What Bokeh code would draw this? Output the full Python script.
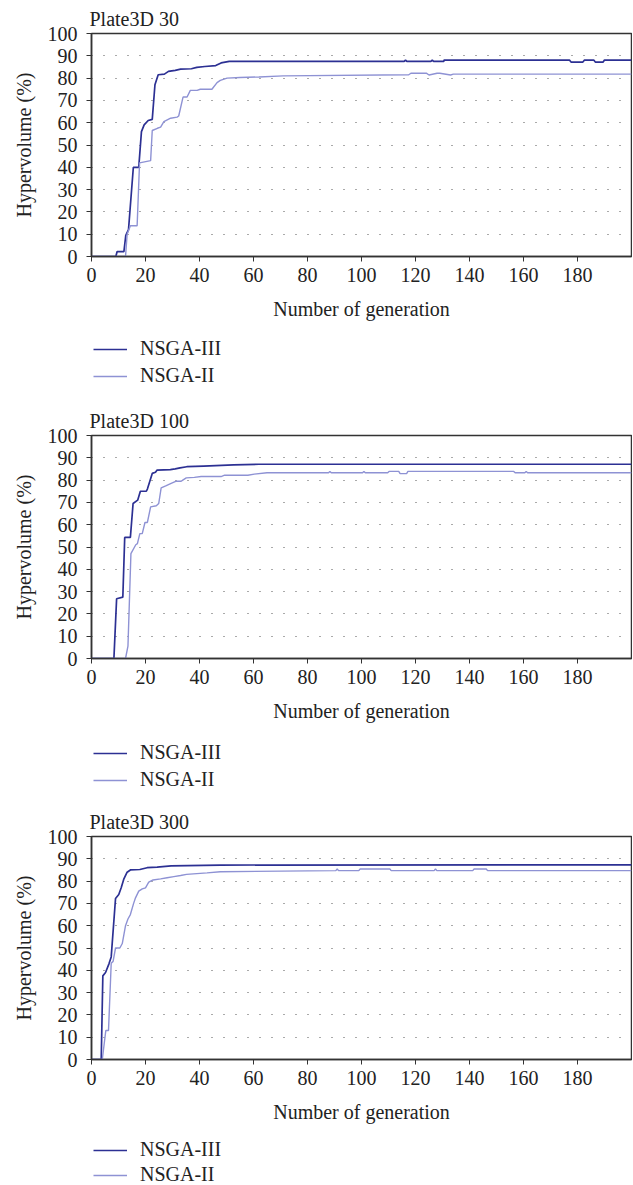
from bokeh.plotting import figure
from bokeh.models import Legend, LegendItem, FixedTicker, Range1d
from bokeh.layouts import column
from bokeh.embed import file_html
from bokeh.resources import INLINE

# ---------------- data ----------------
titles = ["Plate3D 30", "Plate3D 100", "Plate3D 300"]
series_names = ["NSGA-III", "NSGA-II"]
x_ticks = [0, 20, 40, 60, 80, 100, 120, 140, 160, 180]
y_ticks = [0, 10, 20, 30, 40, 50, 60, 70, 80, 90, 100]

# Plate3D 30
nsga3_30_x = [0, 9, 9.5, 12, 12.7, 13.7, 15.5, 17.5, 18.5, 19.5, 21, 22.5, 23.5, 24.7, 27, 28.5, 31, 33, 37, 39, 42, 46,
              48, 51, 115.8, 116.3, 116.8, 125.7, 126.2, 126.7, 130.5, 130.6, 177, 177.6, 182, 182.6, 186, 186.6, 189.5,
              190, 200]
nsga3_30_y = [0, 0, 2.2, 2.2, 9.5, 12, 40, 40, 56, 59, 61, 61.5, 77, 81.5, 81.8, 83, 83.5, 84, 84.2, 84.8, 85.2, 85.6,
              86.8, 87.5, 87.5, 88.1, 87.5, 87.5, 88.1, 87.5, 87.5, 88.1, 88.1, 87.2, 87.2, 88.1, 88.1, 87.2, 87.2,
              88.1, 88.1]
nsga2_30_x = [0, 12.6, 13.2, 14.4, 16.9, 17.8, 21.9, 22.5, 24.4, 25.6, 26.8, 29.3, 31.7, 32.3, 33.9, 35.4, 36.6, 39.1,
              40.3, 44.6, 46.5, 47.7, 50.2, 55, 62, 71, 117.5, 118.3, 124, 125, 128, 129, 133, 134, 200]
nsga2_30_y = [0, 0, 10, 13.8, 13.8, 42, 43, 56.5, 57.5, 58, 60.5, 62, 62.5, 63, 71.5, 71.5, 74.5, 74.5, 75, 75, 78,
              79, 80, 80.3, 80.5, 81, 81.5, 82.2, 82.2, 81.4, 82.2, 82.2, 81.4, 81.8, 81.8]

# Plate3D 100
nsga3_100_x = [0, 8.3, 9.3, 11.6, 12.3, 14.4, 15.4, 17.1, 18.1, 20.3, 20.7, 22.5, 23.7, 24.3, 29.2, 31, 32.8, 35.3,
               41.5, 52.6, 62, 200]
nsga3_100_y = [0, 0, 26.8, 27.5, 54.3, 54.3, 69.5, 71, 75, 75, 76, 83, 83.5, 84.5, 84.7, 85, 85.5, 86, 86.3, 86.8,
               87.1, 87.1]
nsga2_100_x = [0, 12.6, 13.5, 14.6, 16.4, 17, 17.9, 18.8, 19.8, 20.7, 21.9, 24, 24.9, 25.8, 27.7, 29.5, 31.4, 33.2,
               33.8, 35.1, 38.1, 40.6, 48, 49.3, 57.9, 60.3, 65, 87.8, 88.3, 88.8, 100.4, 100.9, 101.4, 109.7, 110.2,
               113.8, 114.3, 116.7, 117.2, 156.4, 156.9, 160.5, 161, 161.5, 200]
nsga2_100_y = [0, 0, 5.5, 47, 51, 51.5, 56, 56, 61, 61, 68, 68.5, 69.5, 76.5, 77.5, 78.5, 79.5, 79.5, 80, 81, 81.2,
               81.6, 81.6, 82.2, 82.2, 82.7, 83.3, 83.3, 83.9, 83.3, 83.3, 83.9, 83.3, 83.3, 83.9, 83.9, 82.9, 82.9,
               83.9, 83.9, 83.3, 83.3, 83.9, 83.3, 83.3]

# Plate3D 300
nsga3_300_x = [0, 3.6, 4.2, 5.2, 6.5, 7.3, 8.9, 10.1, 11, 12, 13.2, 14.4, 17.9, 20.6, 24.3, 29.5, 47.7, 200]
nsga3_300_y = [0, 0, 37.5, 39, 43, 46, 72.2, 74, 77, 81, 84, 85, 85.2, 86, 86.3, 86.8, 87.2, 87.3]
nsga2_300_x = [0, 4, 5.3, 6.3, 7.3, 8, 8.9, 10.5, 11.4, 12.6, 13.5, 14.4, 15.6, 16.3, 17.5, 18.8, 20, 21.2, 22.8,
               25.6, 28, 30.5, 33, 35.2, 42.8, 47.7, 90.5, 91, 91.5, 99, 99.5, 110.5, 111, 126.9, 127.4, 127.9, 141.2,
               141.7, 146.2, 146.7, 200]
nsga2_300_y = [0, 0, 13, 13, 43.2, 44, 50, 50, 52, 60, 63, 65, 70, 72.5, 75.5, 76.5, 77, 79.5, 80.5, 81, 81.5, 82,
               82.5, 83, 83.7, 84.2, 84.7, 85.4, 84.7, 84.7, 85.4, 85.4, 84.7, 84.7, 85.4, 84.7, 84.7, 85.4, 85.4, 84.7,
               84.7]

series = [
    (nsga3_30_x, nsga3_30_y, nsga2_30_x, nsga2_30_y),
    (nsga3_100_x, nsga3_100_y, nsga2_100_x, nsga2_100_y),
    (nsga3_300_x, nsga3_300_y, nsga2_300_x, nsga2_300_y),
]

# ---------------- styling ----------------
FONT = "Liberation Serif"
DARK = "#2c3093"
LIGHT = "#8e92d4"
AX = "#333333"
TXT = "#222222"
FS = "20px"
FRAME_H = 223
TOP = 33
MAIN_H = 326
W = 632


def make_panel(title, x3, y3, x2, y2):
    p = figure(width=W, height=MAIN_H, x_range=Range1d(0, 200), y_range=Range1d(0, 100),
               output_backend="svg", toolbar_location=None,
               min_border_left=91, min_border_right=1, min_border_top=TOP,
               min_border_bottom=MAIN_H - TOP - FRAME_H)
    p.title.text = title
    p.title.text_font = FONT
    p.title.text_font_size = FS
    p.title.text_font_style = "normal"
    p.title.text_color = TXT
    p.title.align = "left"
    p.title.offset = -2
    p.title.standoff = 7

    p.line(x3, y3, line_color=DARK, line_width=1.7)
    p.line(x2, y2, line_color=LIGHT, line_width=1.4)

    p.outline_line_color = AX
    p.outline_line_width = 1.5
    p.background_fill_color = "white"
    p.border_fill_color = "white"

    p.xgrid.visible = False
    p.ygrid.ticker = FixedTicker(ticks=y_ticks)
    p.ygrid.grid_line_color = "#555555"
    p.ygrid.grid_line_dash = "1 11"
    p.ygrid.grid_line_width = 1.2

    p.xaxis.ticker = FixedTicker(ticks=x_ticks)
    p.yaxis.ticker = FixedTicker(ticks=y_ticks)
    p.xaxis.axis_label = "Number of generation"
    p.yaxis.axis_label = "Hypervolume (%)"
    for ax in (p.xaxis[0], p.yaxis[0]):
        ax.axis_line_color = AX
        ax.axis_line_width = 1.5
        ax.major_tick_line_color = AX
        ax.major_tick_in = 0
        ax.major_tick_out = 5
        ax.minor_tick_line_color = None
        ax.major_label_text_font = FONT
        ax.major_label_text_font_size = FS
        ax.major_label_text_color = TXT
        ax.axis_label_text_font = FONT
        ax.axis_label_text_font_size = FS
        ax.axis_label_text_font_style = "normal"
        ax.axis_label_text_color = TXT
    p.xaxis.major_label_standoff = 6
    p.xaxis.axis_label_standoff = 13
    p.yaxis.major_label_standoff = 9
    p.yaxis.axis_label_standoff = 10
    return p


def make_legend(height, top, spacing):
    # legend strip below each chart; its frame is aligned with the chart frame by the column
    lf = figure(width=W, height=height, x_range=Range1d(0, 1), y_range=Range1d(0, 1),
                output_backend="svg", toolbar_location=None,
                min_border=0, x_axis_type=None, y_axis_type=None)
    lf.grid.visible = False
    lf.outline_line_color = None
    lf.background_fill_color = "white"
    lf.border_fill_color = "white"
    # proxy renderers (outside the visible range) that only supply the legend glyph styles
    r3 = lf.line([5, 6], [5, 6], line_color=DARK, line_width=1.7)
    r2 = lf.line([5, 6], [5, 6], line_color=LIGHT, line_width=1.4)
    leg_h = 2 * 20 + spacing + 4
    legend = Legend(items=[LegendItem(label=series_names[0], renderers=[r3]),
                           LegendItem(label=series_names[1], renderers=[r2])],
                    location=(2, height - top - leg_h), orientation="vertical",
                    border_line_color=None, background_fill_alpha=0,
                    label_text_font=FONT, label_text_font_size=FS, label_text_color=TXT,
                    glyph_width=34, glyph_height=20, label_height=20, spacing=spacing,
                    padding=2, margin=0, label_standoff=13)
    lf.add_layout(legend, "center")
    return lf


legend_specs = [(76, 13, 4), (75, 15, 4), (55, 11, 2)]
children = []
for t, s, ls in zip(titles, series, legend_specs):
    children.append(make_panel(t, *s))
    children.append(make_legend(*ls))
layout = column(*children, spacing=0)

open("out.html", "w").write(file_html(layout, INLINE))
